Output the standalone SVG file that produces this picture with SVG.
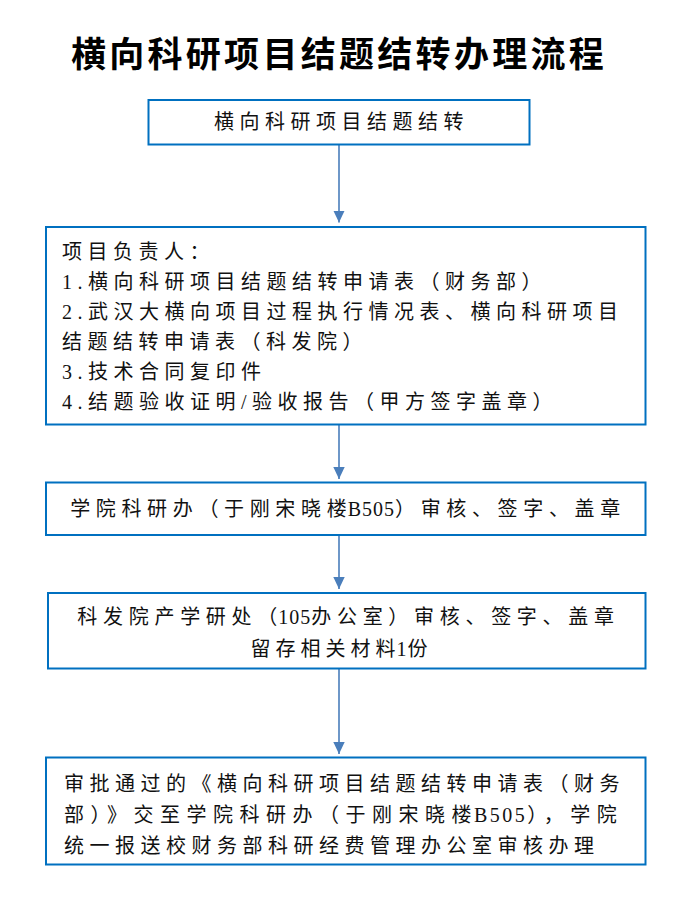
<svg xmlns="http://www.w3.org/2000/svg" width="695" height="909" viewBox="0 0 695 909">
<style>
.box{fill:#ffffff;stroke:#0070c0;stroke-width:2}
.t{font-family:"Liberation Serif","Noto Sans CJK SC",serif;font-size:20px;fill:#111111;letter-spacing:5.5px}
.c{text-anchor:middle}
.lat{letter-spacing:1px}
.title{font-family:"Noto Sans CJK SC","Noto Sans",sans-serif;font-size:35px;font-weight:bold;fill:#000000;text-anchor:middle;letter-spacing:3.3px}
.conn{stroke:#4a7ebb;stroke-width:1.6;fill:none}
</style>
<defs>
<marker id="ah" viewBox="0 0 12 12" refX="12" refY="6" markerWidth="12" markerHeight="12" markerUnits="userSpaceOnUse" orient="auto">
<path d="M0,0.3 L12,6 L0,11.7 Z" fill="#4a7ebb"/>
</marker>
</defs>
<rect width="695" height="909" fill="#ffffff"/>
<text class="title" x="339" y="67">横向科研项目结题结转办理流程</text>

<g id="connectors">
<line class="conn" x1="339" y1="145" x2="339" y2="222.5" marker-end="url(#ah)"/>
<line class="conn" x1="339" y1="425" x2="339" y2="479" marker-end="url(#ah)"/>
<line class="conn" x1="339" y1="535.5" x2="339" y2="589" marker-end="url(#ah)"/>
<line class="conn" x1="339" y1="669" x2="339" y2="754" marker-end="url(#ah)"/>
</g>

<g id="node1">
<rect class="box" x="148.5" y="100" width="381" height="44.5"/>
<text class="t c" x="341.5" y="129">横向科研项目结题结转</text>
</g>

<g id="node2">
<rect class="box" x="46" y="227" width="599.5" height="197.5"/>
<text class="t" x="62" y="259">项目负责人：</text>
<text class="t" x="62" y="289">1.横向科研项目结题结转申请表（财务部）</text>
<text class="t" x="62" y="319">2.武汉大横向项目过程执行情况表、横向科研项目</text>
<text class="t" x="62" y="349">结题结转申请表（科发院）</text>
<text class="t" x="62" y="379">3.技术合同复印件</text>
<text class="t" x="62" y="409">4.结题验收证明/验收报告（甲方签字盖章）</text>
</g>

<g id="node3">
<rect class="box" x="46" y="482.5" width="599.5" height="52.5"/>
<text class="t c" x="348" y="516" style="letter-spacing:5.65px">学院科研办（于刚宋晓<tspan class="lat">楼B505</tspan>）审核、签字、盖章</text>
</g>

<g id="node4">
<rect class="box" x="48" y="593" width="597.5" height="75.5"/>
<text class="t c" x="348.5" y="624" style="letter-spacing:5.7px">科发院产学研处<tspan class="lat">（105</tspan>办公室）审核、签字、盖章</text>
<text class="t c" x="341.5" y="656" style="letter-spacing:5px">留存相关材<tspan class="lat">料1</tspan>份</text>
</g>

<g id="node5">
<rect class="box" x="46" y="757.5" width="599.5" height="107"/>
<text class="t" x="64" y="791">审批通过的《横向科研项目结题结转申请表（财务</text>
<text class="t" x="64" y="822" style="letter-spacing:6.5px">部）》交至学院科研办（于刚宋晓<tspan style="letter-spacing:2.5px">楼B505</tspan>），学院</text>
<text class="t" x="64" y="853">统一报送校财务部科研经费管理办公室审核办理</text>
</g>
</svg>
